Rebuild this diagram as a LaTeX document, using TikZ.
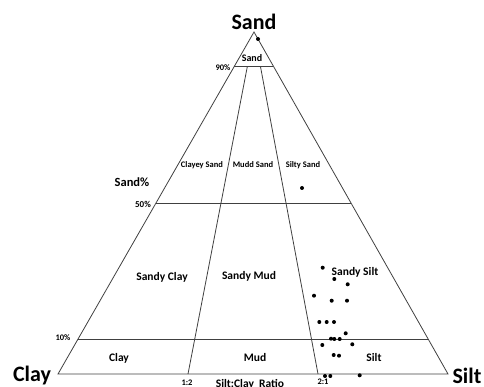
\documentclass[tikz,border=0pt]{standalone}
\usepackage{fontspec}
\setmainfont{Carlito}
\usetikzlibrary{calc}
\begin{document}
\begin{tikzpicture}[x=1pt,y=-1pt,
  edge/.style={draw=black!75,line width=0.8pt},
  corner/.style={font=\bfseries\fontsize{22}{24}\selectfont},
  region/.style={font=\bfseries\fontsize{11.5}{13}\selectfont},
  small/.style={font=\bfseries\fontsize{8.5}{10}\selectfont},
  pct/.style={font=\bfseries\fontsize{8.5}{10}\selectfont},
  dot/.style={circle,fill=black,inner sep=0pt,minimum size=4pt}]
\useasboundingbox (0,0) rectangle (484,387);
\coordinate (L) at (58,374);
\coordinate (R) at (448,374);
\coordinate (A) at (254,32);
\coordinate (B1) at (188,374);
\coordinate (B2) at (318,374);
% main triangle
\draw[edge] (L) -- (R) -- (A) -- cycle;
% horizontal lines
\draw[edge] ($(L)!0.9!(A)$) -- ($(R)!0.9!(A)$);
\draw[edge] ($(L)!0.5!(A)$) -- ($(R)!0.5!(A)$);
\draw[edge] ($(L)!0.1!(A)$) -- ($(R)!0.1!(A)$);
% ratio lines
\draw[edge] (B1) -- ($(B1)!0.9!(A)$);
\draw[edge] (B2) -- ($(B2)!0.9!(A)$);
% corner labels
\node[corner] (tSand) at (254,22) {Sand};
\node[corner] (tClay) at (32,376) {Clay};
\node[corner] (tSilt) at (467,376) {Silt};
% axis labels
\node[font=\bfseries\fontsize{12.5}{14}\selectfont] (sandpct) at (132,182) {Sand\%};
\node[pct] (p90) at (223,68) {90\%};
\node[pct,font=\bfseries\fontsize{9}{10}\selectfont] (p50) at (143,204) {50\%};
\node[pct] (p10) at (63,338) {10\%};
\node[pct] (r12) at (187,383) {1:2};
\node[pct] (r21) at (323,382) {2:1};
\node[region] (ratio) at (250,384) {Silt:Clay\ \ Ratio};
% region labels
\node[font=\bfseries\fontsize{10}{12}\selectfont] (rSand) at (252,58) {Sand};
\node[small] (rCS) at (202,165) {Clayey Sand};
\node[small] (rMS) at (253,165) {Mudd Sand};
\node[small] (rSS) at (303,165) {Silty Sand};
\node[region] (rSC) at (162,277) {Sandy Clay};
\node[region] (rSM) at (249,276) {Sandy Mud};
\node[region] (rSSi) at (355,272) {Sandy Silt};
\node[region] (rC) at (119,358) {Clay};
\node[region] (rM) at (255,358) {Mud};
\node[region] (rSi) at (374,358) {Silt};
% data points
\foreach \px/\py [count=\i] in {258/39, 302/188, 322.7/267.7, 334.3/279, 347.7/284.3,
  314/295.7, 331.7/300.7, 347/300.7, 319.3/322, 326.7/322, 334/322,
  345.7/333.3, 331/338.7, 334.3/339, 339.7/339, 322.3/345, 352.3/344.3,
  333.7/355, 339/355.7, 325/376, 330.3/376, 359.7/375.3}
  \node[dot] (d\i) at (\px,\py) {};
\end{tikzpicture}
\end{document}
